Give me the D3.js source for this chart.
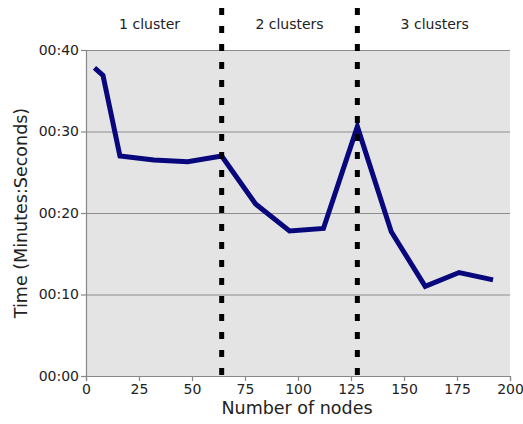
<!DOCTYPE html>
<html><head><meta charset="utf-8">
<script src="https://cdn.jsdelivr.net/npm/d3@7"></script>
<style>
html,body{margin:0;padding:0;background:#fff;}
svg{display:block;font-family:"DejaVu Sans",sans-serif;}
</style></head>
<body>
<svg id="chart" width="523" height="424"></svg>
<script>
const nodes = [4, 8, 16, 32, 48, 64, 80, 96, 112, 128, 144, 160, 176, 192];
const seconds = [37.8, 36.9, 27.0, 26.5, 26.3, 27.0, 21.1, 17.8, 18.1, 30.6, 17.7, 11.0, 12.7, 11.8];
const xTicks = [0, 25, 50, 75, 100, 125, 150, 175, 200];
const yTicks = [0, 10, 20, 30, 40];
const dividers = [64, 128];
const regionLabels = ["1 cluster", "2 clusters", "3 clusters"];
const regionCenters = [30, 96, 164.5];

const svg = d3.select("#chart");
const L = 86, R = 510, T = 50, B = 376;
const x = d3.scaleLinear().domain([0, 200]).range([L, R]);
const y = d3.scaleLinear().domain([0, 40]).range([B, T]);
const fmt = s => { const m = Math.floor(s/60), ss = Math.round(s%60); return String(m).padStart(2,"0")+":"+String(ss).padStart(2,"0"); };

svg.append("rect").attr("x", L).attr("y", T).attr("width", R-L).attr("height", B-T).attr("fill", "#e4e4e4");

// gridlines
svg.append("g").selectAll("line").data(yTicks.filter(d=>d>0)).join("line")
  .attr("x1", L).attr("x2", R).attr("y1", d=>y(d)+0.5).attr("y2", d=>y(d)+0.5)
  .attr("stroke", "#8c8c8c").attr("stroke-width", 1.2);

// axes
const ax = svg.append("g").attr("transform", `translate(0,${B})`)
  .call(d3.axisBottom(x).tickValues(xTicks).tickSize(5).tickPadding(3));
const ay = svg.append("g").attr("transform", `translate(${L},0)`)
  .call(d3.axisLeft(y).tickValues(yTicks).tickFormat(fmt).tickSize(5).tickPadding(2));
[ax, ay].forEach(g => {
  g.select(".domain").attr("stroke", "#888").attr("stroke-width", 1.2);
  g.selectAll(".tick line").attr("stroke", "#888").attr("stroke-width", 1.2);
  g.selectAll("text").attr("font-size", 14).attr("fill", "#222").attr("font-family", "DejaVu Sans, sans-serif");
});

// data line
svg.append("path").datum(nodes.map((n,i)=>[n, seconds[i]]))
  .attr("d", d3.line().x(d=>x(d[0])).y(d=>y(d[1])))
  .attr("fill", "none").attr("stroke", "#08087c").attr("stroke-width", 5)
  .attr("stroke-linejoin", "miter");

// divider dashed lines
svg.append("g").selectAll("line").data(dividers).join("line")
  .attr("x1", d=>x(d)).attr("x2", d=>x(d)).attr("y1", 8).attr("y2", 380)
  .attr("stroke", "#000").attr("stroke-width", 5).attr("stroke-dasharray", "7,11");

// region labels
svg.append("g").selectAll("text").data(regionLabels).join("text")
  .attr("x", (d,i)=>x(regionCenters[i])).attr("y", 29)
  .attr("text-anchor", "middle").attr("font-size", 14).attr("fill", "#222").text(d=>d);

// axis titles
svg.append("text").attr("x", (L+R)/2 - 1).attr("y", 414).attr("text-anchor", "middle")
  .attr("font-size", 17.5).attr("fill", "#222").text("Number of nodes");
svg.append("text").attr("transform", `translate(27,${(T+B)/2}) rotate(-90)`)
  .attr("text-anchor", "middle").attr("font-size", 17.5).attr("fill", "#222").text("Time (Minutes:Seconds)");
</script>
</body></html>
